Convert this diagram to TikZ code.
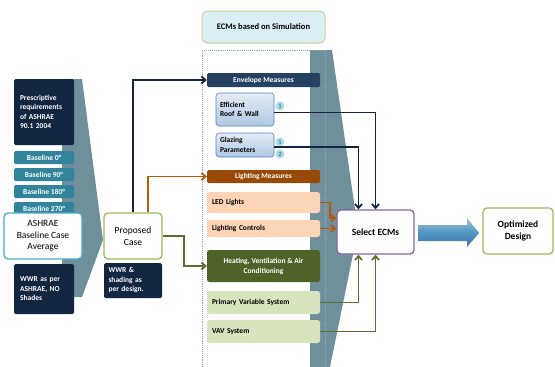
\documentclass[tikz,border=0pt]{standalone}
\usepackage{fontspec}
\setmainfont{Carlito}
\usepackage{xcolor}
\usetikzlibrary{positioning,calc,arrows.meta}

\definecolor{navy}{HTML}{132640}
\definecolor{envblue}{HTML}{254061}
\definecolor{teal}{HTML}{31849B}
\definecolor{funnel}{HTML}{6F909B}
\definecolor{skyline}{HTML}{4BACC6}
\definecolor{leaf}{HTML}{9BBB59}
\definecolor{rust}{HTML}{984807}
\definecolor{rustline}{HTML}{B8590C}
\definecolor{peach}{HTML}{FBD5B5}
\definecolor{olive}{HTML}{4F6228}
\definecolor{oliveline}{HTML}{5A7230}
\definecolor{pale}{HTML}{D7E4BD}
\definecolor{plum}{HTML}{8064A2}
\definecolor{roofblue}{HTML}{4F81BD}
\definecolor{dots}{HTML}{8EA9C1}

\tikzset{
  darkbox/.style={rectangle, rounded corners=1.5pt, fill=navy, text=white,
    font=\fontsize{7.5}{9.5}\selectfont\bfseries, align=left, inner sep=1pt},
  basebox/.style={rectangle, rounded corners=1.5pt, fill=teal, text=white,
    font=\fontsize{7.5}{9}\selectfont\bfseries, minimum width=60pt, minimum height=13pt, inner sep=0pt},
  casebox/.style={rectangle, rounded corners=4pt, fill=white, line width=1.3pt,
    font=\fontsize{9.5}{11.5}\selectfont, align=center, inner sep=1pt},
  headbox/.style={rectangle, rounded corners=1.5pt, text=white,
    font=\fontsize{7.5}{9}\selectfont\bfseries, minimum width=113pt, inner sep=0pt},
  subbox/.style={rectangle, rounded corners=3pt, draw=roofblue, line width=0.6pt,
    top color=roofblue!15, bottom color=roofblue!45, minimum width=58pt, inner sep=1pt,
    font=\fontsize{7.5}{9.5}\selectfont\bfseries, align=left, text width=50pt},
  itembox/.style={rectangle, rounded corners=2.5pt, minimum width=113pt,
    font=\fontsize{7.5}{9}\selectfont\bfseries, text width=103pt, align=left, inner sep=1pt},
  badge/.style={circle, fill=skyline!45, text=teal, inner sep=0pt, minimum size=9pt,
    font=\fontsize{6.5}{7}\selectfont\bfseries},
  navyline/.style={draw=navy, line width=1.8pt, -{Straight Barb[length=4pt,width=7pt]}},
  rustarrow/.style={draw=rustline, line width=1.8pt, -{Straight Barb[length=4pt,width=7pt]}},
  olivearrow/.style={draw=oliveline, line width=1.8pt, -{Straight Barb[length=4pt,width=7pt]}}
}

\begin{document}
\begin{tikzpicture}[x=1pt,y=-1pt]
  \useasboundingbox (0,0) rectangle (555,367);

  % funnels and frame
  \fill[funnel] (62,79) -- (82,79) -- (103,240) -- (82,297) -- (62,297) -- cycle;
  \fill[funnel] (310,50) -- (332,50) -- (358,230) -- (330,367) -- (310,367) -- cycle;
  \draw[dots, densely dotted, line width=0.9pt] (202,367) -- (202,50) -- (325,50) -- (325,367);

  % baseline side
  \node[darkbox, minimum width=60pt, minimum height=66pt, text width=48pt] (presc) at (44,112)
    {Prescriptive\\requirements\\of ASHRAE\\90.1 2004};
  \node[basebox] (b0) at (44,157.5) {Baseline 0°};
  \node[basebox] (b90) at (44,174.5) {Baseline 90°};
  \node[basebox] (b180) at (44,191.5) {Baseline 180°};
  \node[basebox] (b270) at (44,208.5) {Baseline 270°};
  \node[casebox, draw=skyline, minimum width=78pt, minimum height=46pt] (avg) at (43,236)
    {ASHRAE\\Baseline Case\\Average};
  \node[darkbox, minimum width=60pt, minimum height=50pt, text width=48pt] (wwr) at (44,289)
    {WWR as per\\ASHRAE, NO\\Shades};

  % proposed case
  \node[casebox, draw=leaf, minimum width=58pt, minimum height=46pt] (prop) at (133,236)
    {Proposed\\Case};
  \node[darkbox, minimum width=58pt, minimum height=35pt, text width=49pt] (shade) at (133,280.5)
    {WWR \&\\shading as\\per design.};

  % ECMs
  \node[rectangle, rounded corners=5pt, draw=leaf!60, line width=1pt, fill=skyline!20,
    minimum width=123pt, minimum height=32pt, font=\fontsize{8.5}{10}\selectfont\bfseries]
    (sim) at (263.5,27) {ECMs based on Simulation};

  \node[headbox, fill=envblue, minimum height=14pt] (env) at (263.5,80) {Envelope Measures};
  \node[subbox, minimum height=33pt] (roof) at (245,109.5) {Efficient\\Roof \& Wall};
  \node[subbox, minimum height=24pt] (glaz) at (245,145) {Glazing\\Parameters};
  \node[badge] (r1) at (280,106) {1};
  \node[badge] (g1) at (280,142) {1};
  \node[badge] (g2) at (280,154) {2};

  \node[headbox, fill=rust, minimum height=13pt] (light) at (263.5,176.5) {Lighting Measures};
  \node[itembox, fill=peach, minimum height=21pt] (led) at (263.5,202.5) {LED Lights};
  \node[itembox, fill=peach, minimum height=17pt] (ctrl) at (263.5,228.5) {Lighting Controls};

  \node[rectangle, rounded corners=2.5pt, fill=olive, text=white, minimum width=113pt,
    minimum height=32pt, align=center, font=\fontsize{7.5}{10}\selectfont\bfseries]
    (hvac) at (263.5,266) {Heating, Ventilation \& Air\\Conditioning};
  \node[itembox, fill=pale, minimum height=23pt] (prim) at (263.5,302.5) {Primary Variable System};
  \node[itembox, fill=pale, minimum height=23pt] (vav) at (263.5,331.5) {VAV System};

  % result
  \node[casebox, draw=plum, minimum width=77pt, minimum height=44pt,
    font=\fontsize{9.5}{11.5}\selectfont\bfseries] (sel) at (375.5,232) {Select ECMs};
  \node[casebox, draw=leaf, minimum width=70pt, minimum height=46pt,
    font=\fontsize{9.5}{12}\selectfont\bfseries] (opt) at (518,231) {Optimized\\Design};
  \shade[top color=roofblue!50, bottom color=roofblue!90!black, middle color=skyline!50!roofblue]
    (418,225) -- (467,225) -- (467,218) -- (479,233) -- (467,247) -- (467,241) -- (418,241) -- cycle;

  % connectors
  \draw[navyline] (prop.north) |- (env.west);
  \draw[rustarrow] ([xshift=15pt]prop.north) |- (light.west);
  \draw[olivearrow] (prop.east) -- ++(21,0) |- (hvac.west);

  \draw[navyline] ([yshift=-3pt]roof.east) -| (sel.north);
  \draw[navyline] ([yshift=-2pt]glaz.east) -| ([xshift=-17pt]sel.north);
  \draw[rustarrow] (led.east) -- ++(10,0) |- ([yshift=14pt]sel.west);
  \draw[rustarrow] (ctrl.east) -- (ctrl.east -| sel.west);
  \draw[olivearrow] (prim.east) -| ([xshift=-17pt]sel.south);
  \draw[olivearrow] (vav.east) -| (sel.south);
\end{tikzpicture}
\end{document}
